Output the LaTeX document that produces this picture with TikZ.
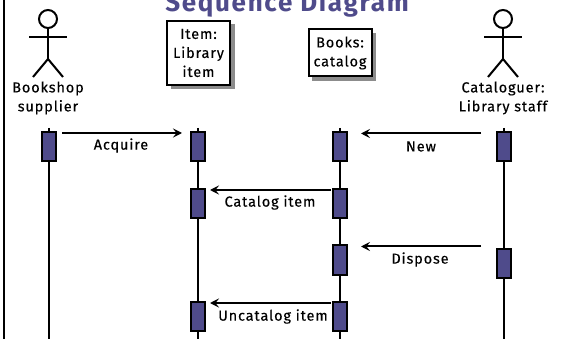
\documentclass[tikz,border=0pt]{standalone}
\usepackage{fontspec}
\setmainfont{Fira Sans}[LetterSpace=6,FakeBold=0.25]
\newfontfamily\titlefont{Fira Sans}[LetterSpace=6.5]
\definecolor{seq}{HTML}{4F4B8B}
\definecolor{shade}{HTML}{8C8C8C}
\usetikzlibrary{arrows.meta}
\tikzset{
  lbl/.style={inner sep=0pt,font=\fontsize{14.5}{19}\selectfont,align=center,text=black},
  objbox/.style={draw=black,line width=2pt,fill=white,inner sep=0pt,anchor=north west},
  shadowbox/.style={fill=shade,inner sep=0pt,anchor=north west},
  act/.style={draw=black,line width=2pt,fill=seq,minimum width=14pt,minimum height=29pt,inner sep=0pt},
  life/.style={line width=2pt,draw=black},
  msg/.style={line width=2pt,-{Stealth[length=9pt,width=9pt,inset=3.5pt]}},
  stick/.style={line width=2pt,draw=black}
}
\newcommand{\stickman}[2]{%
  \node[circle,draw=black,line width=2pt,minimum size=18pt,inner sep=0pt] (#2head) at (#1,19) {};
  \coordinate (#2hip) at (#1,59);
  \coordinate (#2armL) at ({#1-19},37);
  \coordinate (#2armR) at ({#1+19},37);
  \coordinate (#2legL) at ({#1-15},77);
  \coordinate (#2legR) at ({#1+15},77);
  \draw[stick] (#2head) -- (#2hip);
  \draw[stick] (#2armL) -- (#2armR);
  \draw[stick] (#2legL) -- (#2hip) -- (#2legR);
}
\begin{document}
\begin{tikzpicture}[x=1pt,y=-1pt]
\useasboundingbox[fill=white] (0,0) rectangle (565,339);
\begin{scope}
\clip (0,0) rectangle (565,339);
\node[inner sep=0pt,text=seq,font=\titlefont\fontsize{26}{28}\selectfont\bfseries,anchor=base] (title) at (287,12) {Sequence Diagram};
\coordinate (frameT) at (4,0);
\coordinate (frameB) at (4,339);
\draw[line width=2pt] (frameT) -- (frameB);

\stickman{48}{a}
\stickman{503}{b}
\node[lbl] (sup) at (48,98) {Bookshop\\supplier};
\node[lbl] (cat) at (503,98) {Cataloguer:\\Library staff};

\node[shadowbox,minimum width=64pt,minimum height=65pt] (itemS) at (171,24) {};
\node[objbox,minimum width=63pt,minimum height=64pt] (item) at (166,20) {};
\node[lbl] (itemT) at (item.center) {Item:\\Library\\item};
\node[shadowbox,minimum width=64pt,minimum height=48pt] (bookS) at (312,33) {};
\node[objbox,minimum width=63pt,minimum height=47pt] (book) at (307.5,28.5) {};
\node[lbl] (bookT) at (book.center) {Books:\\catalog};

\coordinate (t1) at (49,128); \coordinate (e1) at (49,339);
\coordinate (t2) at (198,128); \coordinate (e2) at (198,339);
\coordinate (t3) at (339.5,128); \coordinate (e3) at (339.5,339);
\coordinate (t4) at (504,128); \coordinate (e4) at (504,339);
\draw[life] (t1) -- (e1);
\draw[life] (t2) -- (e2);
\draw[life] (t3) -- (e3);
\draw[life] (t4) -- (e4);

\node[act] (a1) at (49,146.5) {};
\node[act] (b1) at (198,146.5) {};
\node[act] (b2) at (198,203.5) {};
\node[act] (b3) at (198,316.5) {};
\node[act] (c1) at (339.5,146.5) {};
\node[act] (c2) at (339.5,203.5) {};
\node[act] (c3) at (339.5,260) {};
\node[act] (c4) at (339.5,316.5) {};
\node[act] (d1) at (504,146.5) {};
\node[act] (d2) at (504,263.5) {};

\coordinate (m1s) at (62,133);  \coordinate (m1e) at (182,133);
\coordinate (m2s) at (481,133.5); \coordinate (m2e) at (361,133.5);
\coordinate (m3s) at (331,190); \coordinate (m3e) at (210,190);
\coordinate (m4s) at (481,246.5); \coordinate (m4e) at (361,246.5);
\coordinate (m5s) at (331,303); \coordinate (m5e) at (210,303);
\draw[msg] (m1s) -- (m1e);
\draw[msg] (m2s) -- (m2e);
\draw[msg] (m3s) -- (m3e);
\draw[msg] (m4s) -- (m4e);
\draw[msg] (m5s) -- (m5e);

\node[lbl] (l1) at (121,145.5) {Acquire};
\node[lbl] (l2) at (421,146.5) {New};
\node[lbl] (l3) at (270,202.5) {Catalog item};
\node[lbl] (l4) at (420,259.5) {Dispose};
\node[lbl] (l5) at (273,316.5) {Uncatalog item};
\end{scope}
\end{tikzpicture}
\end{document}
